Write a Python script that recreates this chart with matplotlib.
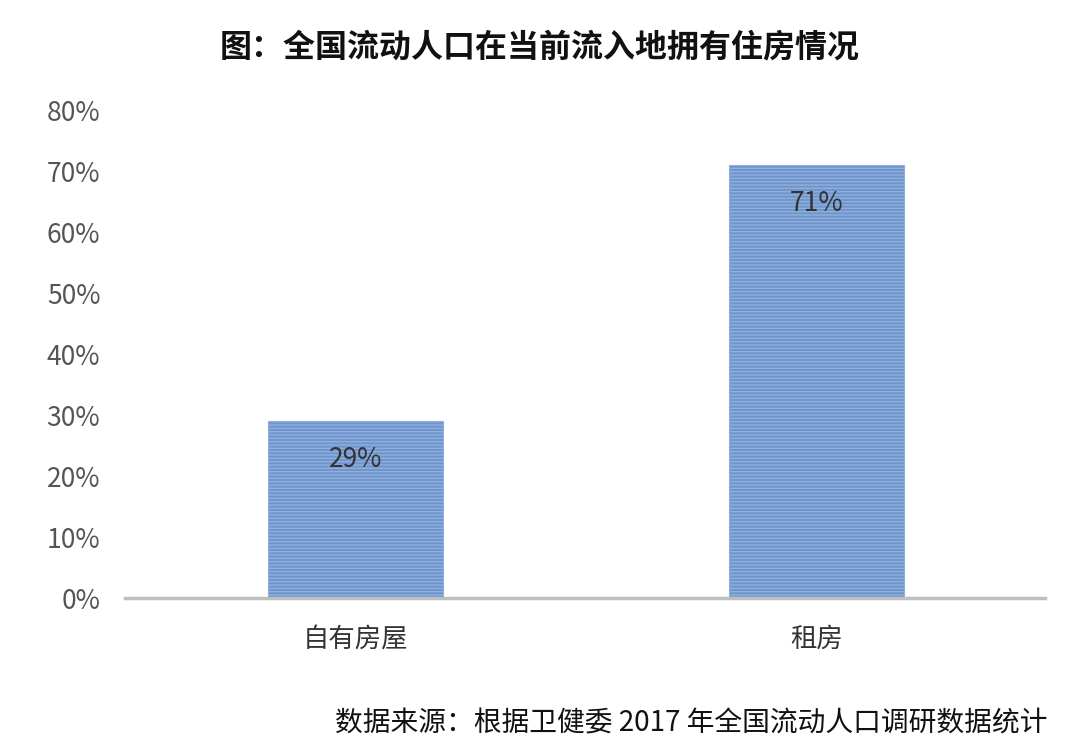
import matplotlib.pyplot as plt
from matplotlib.ticker import PercentFormatter

plt.rcParams['font.family'] = ['Noto Sans CJK SC', 'DejaVu Sans']
plt.rcParams['hatch.color'] = '#c9d9f0'
plt.rcParams['hatch.linewidth'] = 1.0

categories = ['自有房屋', '租房']
values = [29, 71]
labels = ['29%', '71%']

fig = plt.figure(figsize=(10.8, 7.48), dpi=100)
ax = fig.add_axes([0.116, 0.2005, 0.852, 0.652])

bars = ax.bar(categories, values, width=0.38, color='#6f95cc',
              hatch='-----', edgecolor='#8fb0dc', linewidth=0.8)
for b, lab in zip(bars, labels):
    ax.text(b.get_x() + b.get_width() / 2, b.get_height() - 4, lab,
            ha='center', va='top', fontsize=19, color='#333333')

ax.set_ylim(0, 80)
ax.set_xlim(-0.5, 1.497)
ax.set_yticks(range(0, 81, 10))
ax.yaxis.set_major_formatter(PercentFormatter(decimals=0))
ax.tick_params(axis='y', length=0, labelsize=19, labelcolor='#555555', pad=18)
ax.tick_params(axis='x', length=0, labelsize=19, labelcolor='#333333', pad=20)
for s in ['top', 'right', 'left']:
    ax.spines[s].set_visible(False)
ax.spines['bottom'].set_color('#bfbfbf')
ax.spines['bottom'].set_linewidth(2.5)

fig.text(0.5, 0.925, '图：全国流动人口在当前流入地拥有住房情况', ha='center',
         fontsize=23, fontweight='bold', color='#111111')
fig.text(0.97, 0.022, '数据来源：根据卫健委 2017 年全国流动人口调研数据统计', ha='right',
         fontsize=20, fontweight='medium', color='#111111')

fig.savefig('out.png', dpi=100)
